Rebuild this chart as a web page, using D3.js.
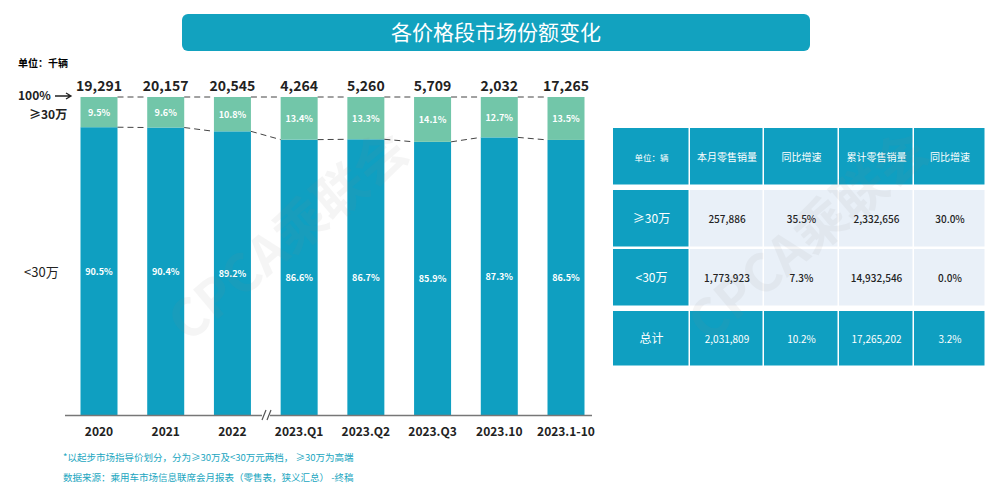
<!DOCTYPE html>
<html><head><meta charset="utf-8">
<script src="https://cdn.jsdelivr.net/npm/d3@7"></script>
<style>body{margin:0;background:#fff;font-family:"Noto Sans CJK SC","Noto Sans",sans-serif}</style>
</head><body><svg id="c" width="999" height="484"></svg>
<script>
const categories=["2020","2021","2022","2023.Q1","2023.Q2","2023.Q3","2023.10","2023.1-10"];
const totals=["19,291","20,157","20,545","4,264","5,260","5,709","2,032","17,265"];
const highShare=[9.5,9.6,10.8,13.4,13.3,14.1,12.7,13.5];
const lowShare=[90.5,90.4,89.2,86.6,86.7,85.9,87.3,86.5];
const tableHeader=["单位：辆","本月零售销量","同比增速","累计零售销量","同比增速"];
const tableRows=[["≥30万","257,886","35.5%","2,332,656","30.0%"],["<30万","1,773,923","7.3%","14,932,546","0.0%"],["总计","2,031,809","10.2%","17,265,202","3.2%"]];

const svg=d3.select("#c");
const blue="#0f9fc1",green="#72c6a9",teal="#12a2bf";
svg.append("rect").attr("x",182).attr("y",14).attr("width",628).attr("height",37).attr("rx",6).attr("fill",teal);
svg.append("text").attr("x",496).attr("y",40).attr("text-anchor","middle").attr("fill","#fff").attr("font-size",21).text("各价格段市场份额变化");
svg.append("text").attr("x",18).attr("y",67).attr("font-size",10).attr("font-weight","bold").text("单位：千辆");

const x=d3.scalePoint().domain(categories).range([99,566]);
const y=d3.scaleLinear().domain([0,100]).range([415,97]);
const bw=37;
const g=svg.append("g");
categories.forEach((c,i)=>{
  const cx=x(c);
  g.append("rect").attr("x",cx-bw/2).attr("y",y(lowShare[i])).attr("width",bw).attr("height",y(0)-y(lowShare[i])).attr("fill",blue);
  g.append("rect").attr("x",cx-bw/2).attr("y",y(100)).attr("width",bw).attr("height",y(lowShare[i])-y(100)).attr("fill",green);
  g.append("text").attr("x",cx).attr("y",(y(100)+y(lowShare[i]))/2+4).attr("text-anchor","middle").attr("fill","#fff").attr("font-size",9).attr("font-weight","bold").text(highShare[i].toFixed(1)+"%");
  g.append("text").attr("x",cx).attr("y",y(lowShare[i]/2)+4).attr("text-anchor","middle").attr("fill","#fff").attr("font-size",9).attr("font-weight","bold").text(lowShare[i].toFixed(1)+"%");
  g.append("text").attr("x",cx).attr("y",91).attr("text-anchor","middle").attr("font-size",14).attr("font-weight","bold").attr("fill","#222").text(totals[i]);
  g.append("text").attr("x",cx).attr("y",436).attr("text-anchor","middle").attr("font-size",12).attr("font-weight","bold").attr("fill","#222").text(c);
});
for(let i=0;i<categories.length-1;i++){
  const a=x(categories[i])+bw/2,b=x(categories[i+1])-bw/2;
  g.append("line").attr("x1",a).attr("x2",b).attr("y1",y(100)).attr("y2",y(100)).attr("stroke","#444").attr("stroke-dasharray","6,4");
  g.append("line").attr("x1",a).attr("x2",b).attr("y1",y(lowShare[i])).attr("y2",y(lowShare[i+1])).attr("stroke","#444").attr("stroke-dasharray","6,4");
}
svg.append("line").attr("x1",65).attr("x2",592).attr("y1",415.5).attr("y2",415.5).attr("stroke","#777").attr("stroke-width",1.5);
svg.append("rect").attr("x",262).attr("y",405).attr("width",8).attr("height",20).attr("fill","#fff");
svg.append("path").attr("d","M262,420 L266,410 M267,420 L271,410").attr("stroke","#555").attr("stroke-width",1.2);
svg.append("text").attr("x",18).attr("y",100).attr("font-size",12).attr("font-weight","bold").attr("fill","#222").text("100%");
svg.append("path").attr("d","M55,96 L70,96 M66,93 L71,96 L66,99").attr("stroke","#222").attr("fill","none").attr("stroke-width",1.3);
svg.append("text").attr("x",29).attr("y",119).attr("font-size",12).attr("font-weight","bold").attr("fill","#222").text("≥30万");
svg.append("text").attr("x",24).attr("y",277).attr("font-size",13).attr("fill","#222").text("<30万");
svg.append("text").attr("x",63).attr("y",461).attr("font-size",9.5).attr("fill","#1aa6c0").text("*以起步市场指导价划分，分为≥30万及<30万元两档，  ≥30万为高端");
svg.append("text").attr("x",63).attr("y",481).attr("font-size",9.5).attr("fill","#1aa6c0").text("数据来源：乘用车市场信息联席会月报表（零售表，狭义汇总）  -终稿");
const cols=[613,690,764,839,914,986];
const rowsY=[[128,186],[190,248],[249,307],[311,367]];
const t=svg.append("g");
const allRows=[tableHeader,...tableRows];
allRows.forEach((r,ri)=>{
  r.forEach((v,ci)=>{
    const dark=ri===0||ri===3||ci===0;
    t.append("rect").attr("x",cols[ci]).attr("y",rowsY[ri][0]).attr("width",cols[ci+1]-cols[ci]-1.5).attr("height",rowsY[ri][1]-rowsY[ri][0]-1.5).attr("fill",dark?blue:"#e9f0f8");
    const fs=ri===0?(ci===0?8.5:10):(ci===0?12:10);
    t.append("text").attr("x",(cols[ci]+cols[ci+1])/2).attr("y",(rowsY[ri][0]+rowsY[ri][1])/2+4).attr("text-anchor","middle").attr("font-size",fs).attr("font-weight",dark?"normal":"500").attr("fill",dark?"#fff":"#222").text(v);
  });
});
[[300,250],[820,250]].forEach(([wx,wy])=>svg.append("text").attr("transform",`translate(${wx},${wy}) rotate(-40)`).attr("text-anchor","middle").attr("font-size",52).attr("font-weight","bold").attr("fill","#888").attr("opacity",0.08).text("CPCA乘联会"));
</script></body></html>
